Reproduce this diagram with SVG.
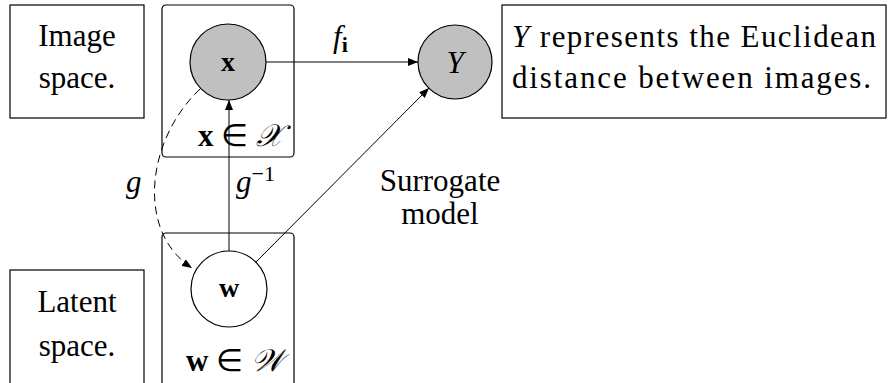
<svg xmlns="http://www.w3.org/2000/svg" width="891" height="383" viewBox="0 0 891 383">
<defs>
<marker id="ah" viewBox="0 0 10 8" refX="10" refY="4" markerWidth="10" markerHeight="8" markerUnits="userSpaceOnUse" orient="auto">
<path d="M0,0 L10,4 L0,8 Z" fill="#000"/>
</marker>
</defs>

<g id="image-space">
<rect x="10" y="5" width="134" height="113" fill="#fff" stroke="#000" stroke-width="1.2"/>
<text x="77" y="46" text-anchor="middle" style="font-family:'Liberation Serif',serif;font-size:31px">Image</text>
<text x="77" y="88" text-anchor="middle" style="font-family:'Liberation Serif',serif;font-size:31px">space.</text>
</g>

<g id="latent-space">
<rect x="10" y="270" width="134" height="130" fill="#fff" stroke="#000" stroke-width="1.2"/>
<text x="77" y="312" text-anchor="middle" style="font-family:'Liberation Serif',serif;font-size:31px">Latent</text>
<text x="77" y="356" text-anchor="middle" style="font-family:'Liberation Serif',serif;font-size:31px">space.</text>
</g>

<g id="plate-x">
<rect x="162" y="5" width="132" height="152" rx="4" fill="none" stroke="#000" stroke-width="1.2"/>
<text x="283" y="146" text-anchor="end" style="font-family:'Liberation Serif',serif;font-size:31px"><tspan style="font-weight:bold">x</tspan> ∈ <tspan style="font-style:italic">𝒳</tspan></text>
</g>

<g id="plate-w">
<rect x="162" y="233" width="132" height="160" rx="4" fill="none" stroke="#000" stroke-width="1.2"/>
<text x="283" y="371" text-anchor="end" style="font-family:'Liberation Serif',serif;font-size:31px"><tspan style="font-weight:bold">w</tspan> ∈ <tspan style="font-style:italic">𝒲</tspan></text>
</g>

<g id="node-x">
<circle cx="228" cy="62" r="38" fill="#c0c0c0" stroke="#000" stroke-width="1.2"/>
<text x="228" y="71" text-anchor="middle" style="font-family:'Liberation Serif',serif;font-size:28px;font-weight:bold">x</text>
</g>

<g id="node-w">
<circle cx="229" cy="289" r="38" fill="#fff" stroke="#000" stroke-width="1.2"/>
<text x="229" y="297" text-anchor="middle" style="font-family:'Liberation Serif',serif;font-size:28px;font-weight:bold">w</text>
</g>

<g id="node-Y">
<circle cx="455" cy="62" r="37" fill="#c0c0c0" stroke="#000" stroke-width="1.2"/>
<text x="455" y="73" text-anchor="middle" style="font-family:'Liberation Serif',serif;font-size:31px;font-style:italic">Y</text>
</g>

<g id="note">
<rect x="502" y="5" width="384" height="113" fill="#fff" stroke="#000" stroke-width="1.2"/>
<text x="512" y="47" textLength="364" lengthAdjust="spacing" style="font-family:'Liberation Serif',serif;font-size:31px"><tspan style="font-style:italic">Y</tspan> represents the Euclidean</text>
<text x="512" y="88" textLength="359" lengthAdjust="spacing" style="font-family:'Liberation Serif',serif;font-size:31px">distance between images.</text>
</g>

<g id="connectors" fill="none" stroke="#000" stroke-width="1">
<path d="M266,62 L418,62" marker-end="url(#ah)"/>
<path d="M229,251 L229,100" marker-end="url(#ah)"/>
<path d="M256,262 L429,88" marker-end="url(#ah)"/>
<path d="M200,89 C146,140 136,232 192,268" stroke-dasharray="8,5" marker-end="url(#ah)"/>
<text x="333" y="47" fill="#000" stroke="none" style="font-family:'Liberation Serif',serif;font-size:31px;font-style:italic">f<tspan dy="5" style="font-weight:bold;font-style:normal;font-size:22px">i</tspan></text>
<text x="236" y="192" fill="#000" stroke="none" style="font-family:'Liberation Serif',serif;font-size:31px;font-style:italic">g<tspan dy="-11" style="font-style:normal;font-size:22px">−1</tspan></text>
<text x="126" y="192" fill="#000" stroke="none" style="font-family:'Liberation Serif',serif;font-size:31px;font-style:italic">g</text>
<text x="440" y="191" text-anchor="middle" fill="#000" stroke="none" style="font-family:'Liberation Serif',serif;font-size:31px">Surrogate</text>
<text x="440" y="224" text-anchor="middle" fill="#000" stroke="none" style="font-family:'Liberation Serif',serif;font-size:31px">model</text>
</g>
</svg>
